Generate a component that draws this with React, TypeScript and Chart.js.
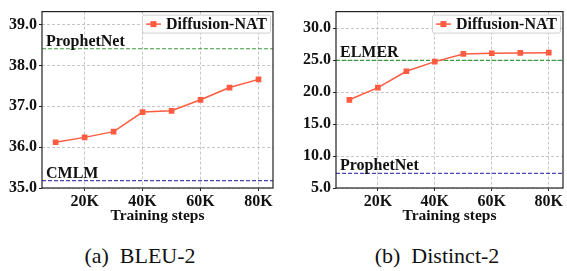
import React, { useEffect, useRef } from 'react';
import { Chart, registerables } from 'chart.js';

Chart.register(...registerables);

const FONT = "'Liberation Serif', 'Times New Roman', Times, serif";

// ---- data ----
const steps = [10000, 20000, 30000, 40000, 50000, 60000, 70000, 80000];
const stepTicks = [20000, 40000, 60000, 80000];
const seriesName = 'Diffusion-NAT';

const bleu2 = [36.12, 36.24, 36.38, 36.86, 36.89, 37.16, 37.46, 37.66];
const bleuRefNames = ['ProphetNet', 'CMLM'];
const bleuRefValues = [38.41, 35.18];
const bleuTicks = [35, 36, 37, 38, 39];

const distinct2 = [18.8, 20.7, 23.27, 24.77, 25.98, 26.08, 26.13, 26.17];
const distinctRefNames = ['ELMER', 'ProphetNet'];
const distinctRefValues = [24.97, 7.3];
const distinctTicks = [5, 10, 15, 20, 25, 30];

const captions = ['(a)\u00a0\u00a0BLEU-2', '(b)\u00a0\u00a0Distinct-2'];

const SERIES_COLOR = '#ff5b40';
const REF_COLORS = ['#3c9a3c', '#4646b8'];
const X_MIN = 5300;
const X_MAX = 85000;

type PanelProps = {
  values: number[];
  refNames: string[];
  refValues: number[];
  yTicks: number[];
  yMin: number;
  yMax: number;
  yAxisWidth: number;
  padRight: number;
  width: number;
  left: number;
};

function Panel(p: PanelProps) {
  const ref = useRef<HTMLCanvasElement | null>(null);
  useEffect(() => {
    if (!ref.current) return;
    const overlay = {
      id: 'overlay',
      afterDraw(chart: any) {
        const { ctx, chartArea: a, scales } = chart;
        ctx.save();
        // reference line labels
        ctx.font = `bold 16px ${FONT}`;
        ctx.fillStyle = '#111';
        ctx.textBaseline = 'alphabetic';
        ctx.textAlign = 'left';
        p.refNames.forEach((n, i) => {
          const y = scales.y.getPixelForValue(p.refValues[i]);
          ctx.fillText(n, a.left + 4, y - 3);
        });
        // legend
        const label = chart.data.datasets[0].label;
        const tw = ctx.measureText(label).width;
        const w = tw + 27;
        const h = 18;
        const x0 = a.right - 3 - w;
        const y0 = a.top + 3;
        ctx.fillStyle = 'rgba(255,255,255,0.85)';
        ctx.strokeStyle = '#d0d0d0';
        ctx.lineWidth = 1;
        ctx.beginPath();
        (ctx as any).roundRect(x0 + 0.5, y0 + 0.5, w, h, 2);
        ctx.fill();
        ctx.stroke();
        const cy = y0 + h / 2 + 0.5;
        ctx.strokeStyle = SERIES_COLOR;
        ctx.lineWidth = 1.5;
        ctx.beginPath();
        ctx.moveTo(x0 + 4, cy);
        ctx.lineTo(x0 + 19, cy);
        ctx.stroke();
        ctx.fillStyle = SERIES_COLOR;
        ctx.fillRect(x0 + 11.5 - 3, cy - 3, 6, 6);
        ctx.fillStyle = '#111';
        ctx.textBaseline = 'middle';
        ctx.fillText(label, x0 + 24, cy + 1);
        // spines
        ctx.strokeStyle = '#222';
        ctx.lineWidth = 1.2;
        ctx.strokeRect(a.left, a.top, a.right - a.left, a.bottom - a.top);
        ctx.restore();
      },
    };

    const datasets: any[] = [
      {
        label: seriesName,
        data: steps.map((s, i) => ({ x: s, y: p.values[i] })),
        borderColor: SERIES_COLOR,
        backgroundColor: SERIES_COLOR,
        pointBackgroundColor: SERIES_COLOR,
        pointBorderColor: SERIES_COLOR,
        pointStyle: 'rect',
        pointRadius: 4,
        pointBorderWidth: 0,
        borderWidth: 1.5,
      },
      ...p.refValues.map((v, i) => ({
        label: p.refNames[i],
        data: [
          { x: X_MIN, y: v },
          { x: X_MAX, y: v },
        ],
        borderColor: REF_COLORS[i],
        borderWidth: 1.2,
        borderDash: [4, 2],
        pointRadius: 0,
      })),
    ];

    const chart = new Chart(ref.current, {
      type: 'line',
      data: { datasets },
      plugins: [overlay],
      options: {
        animation: false,
        responsive: false,
        layout: { padding: { top: 5, right: p.padRight, left: 0, bottom: 0 } },
        plugins: { legend: { display: false }, tooltip: { enabled: false } },
        scales: {
          x: {
            type: 'linear',
            min: X_MIN,
            max: X_MAX,
            afterBuildTicks: (s: any) => {
              s.ticks = stepTicks.map((v) => ({ value: v }));
            },
            afterFit: (s: any) => {
              s.height = 42;
            },
            grid: {
              color: '#b8b8b8',
              lineWidth: 0.8,
              tickColor: '#222',
              tickLength: 3,
              tickWidth: 1,
            },
            border: { display: false, dash: [3, 2] },
            ticks: {
              color: '#111',
              padding: 1,
              maxRotation: 0,
              font: { family: FONT, size: 16, weight: 'bold' },
              callback: (v: any) => `${Number(v) / 1000}K`,
            },
            title: {
              display: true,
              text: 'Training steps',
              color: '#111',
              font: { family: FONT, size: 15.5, weight: 'bold' },
              padding: { top: 0, bottom: 5 },
            },
          },
          y: {
            type: 'linear',
            min: p.yMin,
            max: p.yMax,
            afterBuildTicks: (s: any) => {
              s.ticks = p.yTicks.map((v) => ({ value: v }));
            },
            afterFit: (s: any) => {
              s.width = p.yAxisWidth;
            },
            grid: {
              color: '#b8b8b8',
              lineWidth: 0.8,
              tickColor: '#222',
              tickLength: 3,
              tickWidth: 1,
            },
            border: { display: false, dash: [3, 2] },
            ticks: {
              color: '#111',
              padding: 2,
              font: { family: FONT, size: 16, weight: 'bold' },
              callback: (v: any) => Number(v).toFixed(1),
            },
          },
        },
      } as any,
    });
    return () => chart.destroy();
  }, []);
  return (
    <canvas
      ref={ref}
      width={p.width}
      height={230}
      style={{ position: 'absolute', left: p.left, top: 0, width: p.width, height: 230 }}
    />
  );
}

export default function App() {
  const capStyle: React.CSSProperties = {
    position: 'absolute',
    top: 245,
    width: 200,
    textAlign: 'center',
    fontFamily: FONT,
    fontSize: 22,
    lineHeight: '22px',
    color: '#111',
    whiteSpace: 'pre',
  };
  return (
    <div style={{ position: 'absolute', left: 0, top: 0, width: 567, height: 271, background: '#fff', overflow: 'hidden' }}>
      <Panel
        values={bleu2}
        refNames={bleuRefNames}
        refValues={bleuRefValues}
        yTicks={bleuTicks}
        yMin={35}
        yMax={39.32}
        yAxisWidth={42}
        padRight={10}
        width={283}
        left={0}
      />
      <Panel
        values={distinct2}
        refNames={distinctRefNames}
        refValues={distinctRefValues}
        yTicks={distinctTicks}
        yMin={5}
        yMax={32.6}
        yAxisWidth={53}
        padRight={1}
        width={284}
        left={283}
      />
      <div style={{ ...capStyle, left: 140 - 100 }}>{captions[0]}</div>
      <div style={{ ...capStyle, left: 437 - 100 }}>{captions[1]}</div>
    </div>
  );
}
